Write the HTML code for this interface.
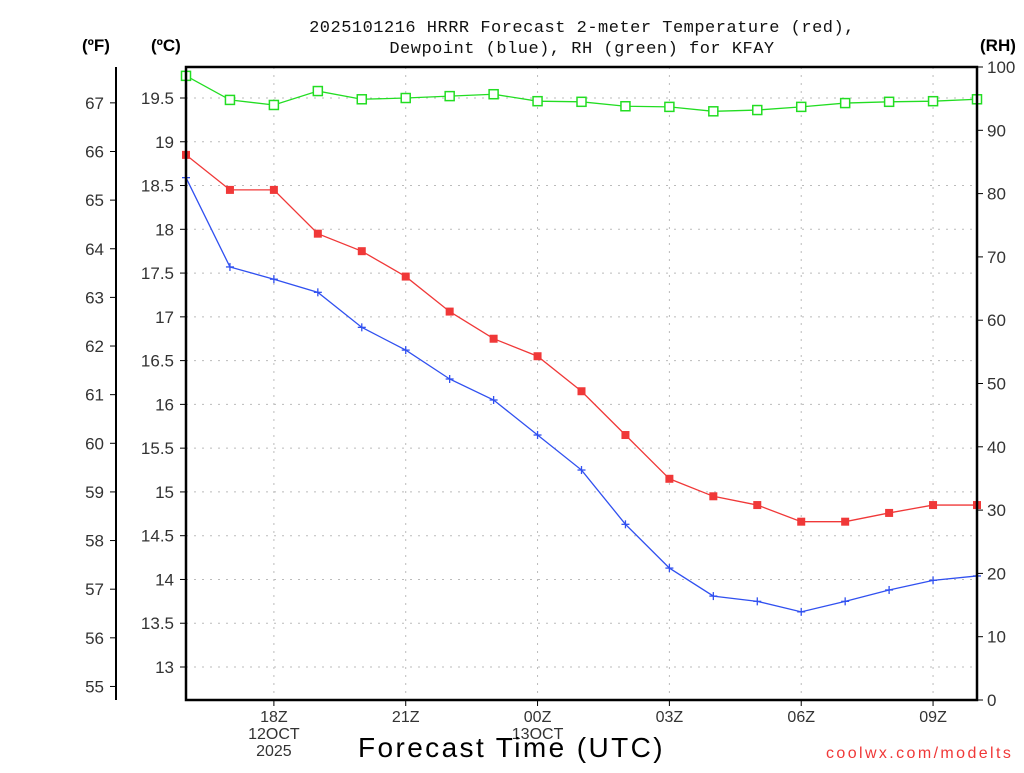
<!DOCTYPE html>
<html><head><meta charset="utf-8"><style>
body{margin:0;background:#fff;width:1024px;height:768px;overflow:hidden}
svg{font-family:"Liberation Sans",sans-serif}
</style></head><body>
<svg id="chart" width="1024" height="768" xmlns="http://www.w3.org/2000/svg"></svg>
<script>
const hours = [0,1,2,3,4,5,6,7,8,9,10,11,12,13,14,15,16,17,18];
const tempC = [18.85,18.45,18.45,17.95,17.75,17.46,17.06,16.75,16.55,16.15,15.65,15.15,14.95,14.85,14.66,14.66,14.76,14.85,14.85];
const dewC = [18.59,17.57,17.43,17.28,16.88,16.62,16.29,16.05,15.65,15.25,14.63,14.13,13.81,13.75,13.63,13.75,13.88,13.99,14.04];
const rh = [98.6,94.8,94.0,96.2,94.9,95.1,95.4,95.7,94.6,94.5,93.8,93.7,93.0,93.2,93.7,94.3,94.5,94.6,94.9];
const cTicks = [13,13.5,14,14.5,15,15.5,16,16.5,17,17.5,18,18.5,19,19.5];
const fTicks = [55,56,57,58,59,60,61,62,63,64,65,66,67];
const rhTicks = [0,10,20,30,40,50,60,70,80,90,100];
const xTickHours = [2,5,8,11,14,17];
const xTickLabels = [["18Z","12OCT","2025"],["21Z"],["00Z","13OCT"],["03Z"],["06Z"],["09Z"]];

const L=186,R=977,T=67,B=700;
const x = h => L + h*(R-L)/18;
const yC = c => 667 - (c-13)*87.54;
const yF = f => yC((f-32)/1.8);
const yRH = v => B - v*(B-T)/100;
const svg=document.getElementById('chart');
const NS='http://www.w3.org/2000/svg';
function mk(tag,attrs,parent){const e=document.createElementNS(NS,tag);for(const k in attrs)e.setAttribute(k,attrs[k]);(parent||svg).appendChild(e);return e;}
function txt(s,attrs){const e=mk('text',attrs);e.textContent=s;return e;}

const grid=mk('g',{stroke:'#bbb','stroke-dasharray':'2,6','stroke-width':1});


cTicks.forEach(c=>mk('line',{x1:L,x2:R,y1:yC(c),y2:yC(c)},grid));
xTickHours.forEach(h=>mk('line',{x1:x(h),x2:x(h),y1:T,y2:B},grid));

cTicks.forEach(c=>{
  mk('line',{x1:L-6,x2:L,y1:yC(c),y2:yC(c),stroke:'#000'});
  const t=txt(String(c),{x:L-12,y:yC(c)+6,'text-anchor':'end','font-size':17,fill:'#333'});
  
  
});
mk('line',{x1:116,x2:116,y1:T,y2:B,stroke:'#000','stroke-width':2});
fTicks.forEach(f=>{
  mk('line',{x1:110,x2:116,y1:yF(f),y2:yF(f),stroke:'#000'});
  const t=txt(String(f),{x:104,y:yF(f)+6,'text-anchor':'end','font-size':17,fill:'#333'});
  
  
});
rhTicks.forEach(v=>{
  mk('line',{x1:R,x2:R+6,y1:yRH(v),y2:yRH(v),stroke:'#000'});
  const t=txt(String(v),{x:R+10,y:yRH(v)+6,'font-size':17,fill:'#333'});
  
  
});
xTickHours.forEach((h,i)=>{
  mk('line',{x1:x(h),x2:x(h),y1:B,y2:B+6,stroke:'#000'});
  xTickLabels[i].forEach((s,j)=>{
    const t=txt(s,{x:x(h),y:B+22+j*17,'text-anchor':'middle','font-size':16,fill:'#333'});
    
    
  });
});

function series(vals,yf,color,marker,name){
  const g=mk('g',{});
  
  
  mk('polyline',{points:vals.map((v,i)=>x(hours[i])+','+yf(v)).join(' '),fill:'none',stroke:color,'stroke-width':1.3},g);
  vals.forEach((v,i)=>{
    const cx=x(hours[i]),cy=yf(v);
    if(marker==='sq') mk('rect',{x:cx-4,y:cy-4,width:8,height:8,fill:color},g);
    else if(marker==='open') mk('rect',{x:cx-4.5,y:cy-4.5,width:9,height:9,fill:'#fff',stroke:color,'stroke-width':1.5},g);
    else {mk('line',{x1:cx-4,x2:cx+4,y1:cy,y2:cy,stroke:color,'stroke-width':1.3},g);mk('line',{x1:cx,x2:cx,y1:cy-4,y2:cy+4,stroke:color,'stroke-width':1.3},g);}
  });
}
series(rh,yRH,'#22dd22','open','rh-series');
series(tempC,yC,'#f03838','sq','temperature-series');
series(dewC,yC,'#3050f0','plus','dewpoint-series');

const fr=mk('rect',{x:L,y:T,width:R-L,height:B-T,fill:'none',stroke:'#000','stroke-width':2.5});


</script>
<div style="position:absolute;left:0;top:0;width:1024px;height:768px;font-family:'Liberation Mono',monospace;pointer-events:none">
<div style="position:absolute;left:0;width:1164px;top:18px;text-align:center;font-size:17px;line-height:21px;color:#111;letter-spacing:0.5px">2025101216 HRRR Forecast 2-meter Temperature (red),<br>Dewpoint (blue), RH (green) for KFAY</div>
<div style="position:absolute;left:82px;top:36px;font:bold 17px 'Liberation Sans',sans-serif">(ºF)</div>
<div style="position:absolute;left:151px;top:36px;font:bold 17px 'Liberation Sans',sans-serif">(ºC)</div>
<div style="position:absolute;left:980px;top:36px;font:bold 17px 'Liberation Sans',sans-serif">(RH)</div>
<div style="position:absolute;left:358px;top:732px;font:28px 'Liberation Sans',sans-serif;letter-spacing:2.4px">Forecast Time (UTC)</div>
<div style="position:absolute;left:826px;top:745px;font:16px 'Liberation Sans',sans-serif;color:#f03838;letter-spacing:2.4px">coolwx.com/modelts</div>
</div>
</body></html>
